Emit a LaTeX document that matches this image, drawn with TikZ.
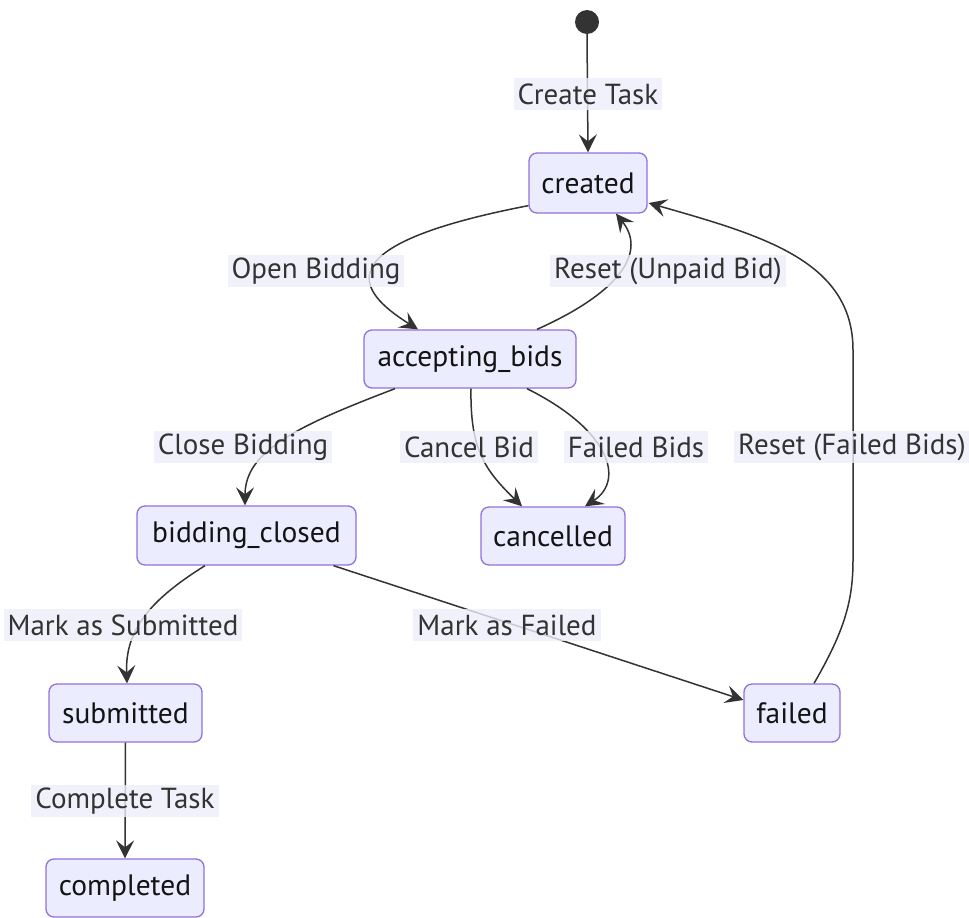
\documentclass[tikz,border=0pt]{standalone}
\usepackage{fontspec}
\setmainfont{PT Sans}
\usetikzlibrary{arrows.meta}
\definecolor{statefill}{HTML}{ECECFF}
\definecolor{stateline}{HTML}{9370DB}
\definecolor{ink}{HTML}{333333}
\definecolor{labelbg}{HTML}{EEEEFA}
\begin{document}
\begin{tikzpicture}[x=1pt,y=-1pt,
  state/.style={draw=stateline, fill=statefill, line width=1.3pt, rounded corners=8pt,
    minimum height=58pt, inner sep=0pt, text=black!92,
    font=\fontsize{29.5}{34}\selectfont},
  trans/.style={draw=ink, line width=1.5pt,
    -{Stealth[length=18pt,width=18pt,inset=7pt]}},
  elabel/.style={fill=labelbg, fill opacity=0.8, text opacity=1, text=ink,
    inner xsep=4pt, inner ysep=0pt, minimum height=32pt,
    font=\fontsize{29}{34}\selectfont}
]
\useasboundingbox (0,0) rectangle (969,918);

% states
\node[circle, fill=ink, minimum size=24pt, inner sep=0pt] (init) at (587,22) {};
\node[state, minimum width=118pt, minimum height=60pt] (created) at (588,183) {created};
\node[state, minimum width=212pt] (accepting_bids) at (470,359) {accepting\_bids};
\node[state, minimum width=219pt, minimum height=59pt] (bidding_closed) at (246.5,535.5) {bidding\_closed};
\node[state, minimum width=144pt] (cancelled) at (553,536) {cancelled};
\node[state, minimum width=153pt] (submitted) at (125.5,713) {submitted};
\node[state, minimum width=96pt] (failed) at (792,713) {failed};
\node[state, minimum width=158pt] (completed) at (125,888) {completed};

% transitions
\draw[trans] (init.south) -- (created.north);
\draw[trans] ([shift={(0,-8)}]created.south west)
  .. controls (325,245) and (355,290) .. ([shift={(-52,0)}]accepting_bids.north);
\draw[trans] ([shift={(67,0)}]accepting_bids.north)
  .. controls (625,290) and (645,250) .. ([shift={(28,0)}]created.south);
\draw[trans] ([shift={(22,0)}]failed.north)
  .. controls (845,630) and (853,600) .. (853,560) -- (853,350)
  .. controls (853,260) and (760,235) .. ([shift={(1,20)}]created.east);
\draw[trans] ([shift={(-75,0)}]accepting_bids.south)
  .. controls (300,425) and (245,450) .. ([shift={(-1.5,0)}]bidding_closed.north);
\draw[trans] ([shift={(1,0)}]accepting_bids.south)
  .. controls (470,450) and (485,470) .. ([shift={(-31,0)}]cancelled.north);
\draw[trans] ([shift={(57,0)}]accepting_bids.south)
  .. controls (610,430) and (625,480) .. ([shift={(32,0)}]cancelled.north);
\draw[trans] ([shift={(-41.5,0)}]bidding_closed.south)
  .. controls (150,600) and (125,630) .. ([shift={(1.5,0)}]submitted.north);
\draw[trans] ([shift={(87,0)}]bidding_closed.south) -- ([shift={(0,-13)}]failed.west);
\draw[trans] (submitted.south) -- (completed.north);

% transition labels
\node[elabel] (l_create) at (588,94) {Create Task};
\node[elabel] (l_open) at (316,271) {Open Bidding};
\node[elabel] (l_unpaid) at (668,271) {Reset (Unpaid Bid)};
\node[elabel] (l_close) at (243,447) {Close Bidding};
\node[elabel] (l_cancel) at (469,447) {Cancel Bid};
\node[elabel] (l_failedbids) at (636,447) {Failed Bids};
\node[elabel] (l_resetfailed) at (852,447) {Reset (Failed Bids)};
\node[elabel] (l_submit) at (123,625) {Mark as Submitted};
\node[elabel] (l_markfailed) at (507,625) {Mark as Failed};
\node[elabel] (l_complete) at (125,801) {Complete Task};
\end{tikzpicture}
\end{document}
